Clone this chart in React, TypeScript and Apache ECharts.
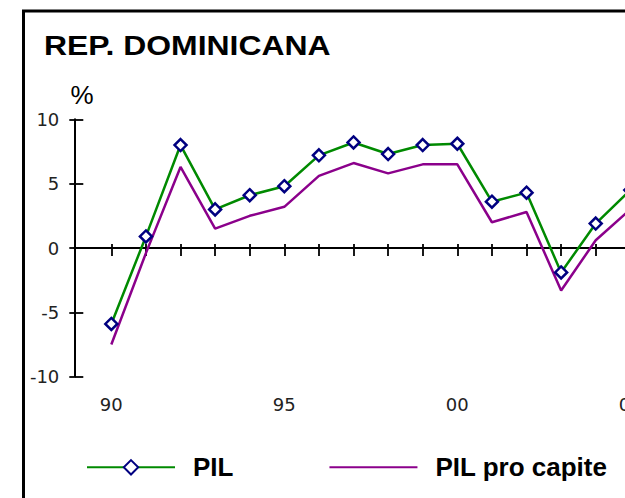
import React, { useEffect, useRef } from "react";
import * as echarts from "echarts";

const years = [1990, 1991, 1992, 1993, 1994, 1995, 1996, 1997, 1998, 1999, 2000, 2001, 2002, 2003, 2004, 2005];
const pil = [-5.9, 0.9, 8.0, 3.0, 4.1, 4.8, 7.2, 8.2, 7.3, 8.0, 8.1, 3.6, 4.3, -1.9, 1.9, 4.5];
const pilProCapite = [-7.5, -0.4, 6.3, 1.5, 2.5, 3.2, 5.6, 6.6, 5.8, 6.5, 6.5, 2.0, 2.8, -3.3, 0.6, 3.0];
const tickYears = [1990, 1991, 1992, 1993, 1994, 1995, 1996, 1997, 1998, 1999, 2000, 2001, 2002, 2003, 2004, 2005, 2006];
const labelYears = [1990, 1995, 2000, 2005];
const seriesNames = ["PIL", "PIL pro capite"];
const titleText = "REP. DOMINICANA";
const unitText = "%";

const X_MIN = 1988.93;
const X_MAX = 2006;
const CHART_W = 690;

export default function App() {
  const ref = useRef<HTMLDivElement>(null);
  useEffect(() => {
    if (!ref.current) return;
    const chart = echarts.init(ref.current, undefined, { renderer: "svg" });
    const axisColor = "#000";
    const baseX = {
      type: "value",
      min: X_MIN,
      max: X_MAX,
      gridIndex: 0,
      position: "bottom",
      splitLine: { show: false },
      axisLabel: { show: false },
    };
    const baseY = {
      type: "value",
      min: -10,
      max: 10,
      interval: 5,
      position: "left",
      splitLine: { show: false },
    };
    // x scale: 34.6 px per year -> axis end at 74.3 + (X_MAX - X_MIN) * 34.6
    const gridRight = CHART_W - (74.3 + (X_MAX - X_MIN) * 34.6);
    chart.setOption({
      animation: false,
      backgroundColor: "#fff",
      grid: { left: 74.3, right: gridRight, top: 119.3, bottom: 121.3, containLabel: false },
      xAxis: [
        {
          ...baseX,
          axisLine: { show: true, onZero: true, lineStyle: { color: axisColor, width: 2 } },
          axisTick: { show: true, inside: true, length: 4, customValues: tickYears, lineStyle: { color: axisColor, width: 1.8 } },
        },
        {
          ...baseX,
          axisLine: { show: false, onZero: true },
          axisTick: { show: true, inside: false, length: 8, customValues: tickYears, lineStyle: { color: axisColor, width: 1.8 } },
        },
        {
          ...baseX,
          axisLine: { show: false, onZero: false },
          axisTick: { show: false },
          axisLabel: {
            show: true,
            customValues: labelYears,
            margin: 19,
            color: "#222",
            fontFamily: "DejaVu Sans",
            fontSize: 18,
            formatter: (v: number) => String(Math.round(v)).slice(2),
          },
        },
      ],
      yAxis: [
        {
          ...baseY,
          axisLine: { show: true, onZero: false, lineStyle: { color: axisColor, width: 2 } },
          axisTick: { show: true, inside: true, length: 9, lineStyle: { color: axisColor, width: 1.8 } },
          axisLabel: { show: true, margin: 15, color: "#222", fontFamily: "DejaVu Sans", fontSize: 18 },
        },
        {
          ...baseY,
          axisLine: { show: false, onZero: false },
          axisTick: { show: true, inside: false, length: 5, lineStyle: { color: axisColor, width: 1.8 } },
          axisLabel: { show: false },
        },
      ],
      legend: {
        data: seriesNames,
        left: 86,
        top: 454.3,
        padding: 0,
        itemWidth: 88,
        itemHeight: 18,
        itemGap: 95,
        textStyle: {
          fontFamily: "Liberation Sans, Arial, sans-serif",
          fontWeight: "bold",
          fontSize: 26,
          color: "#000",
          padding: [0, 0, 12, 13],
        },
      },
      graphic: [
        {
          type: "rect",
          shape: { x: 23.5, y: 11, width: 800, height: 700 },
          style: { fill: "none", stroke: "#000", lineWidth: 3 },
          silent: true,
        },
        {
          type: "text",
          x: 44,
          y: 44.9,
          scaleX: 1.14,
          style: {
            text: titleText,
            x: 0,
            y: 0,
            align: "left",
            verticalAlign: "middle",
            font: "bold 28px 'Liberation Sans', Arial, sans-serif",
            fill: "#000",
          },
        },
        {
          type: "text",
          x: 82,
          y: 94.8,
          style: {
            text: unitText,
            x: 0,
            y: 0,
            align: "center",
            verticalAlign: "middle",
            font: "26px 'Liberation Sans', Arial, sans-serif",
            fill: "#000",
          },
        },
      ],
      series: [
        {
          name: seriesNames[1],
          type: "line",
          xAxisIndex: 0,
          yAxisIndex: 0,
          data: years.map((y, i) => [y, pilProCapite[i]]),
          symbol: "none",
          color: "#8b008b",
          lineStyle: { color: "#8b008b", width: 2.5 },
          itemStyle: { opacity: 0 },
          z: 2,
        },
        {
          name: seriesNames[0],
          type: "line",
          xAxisIndex: 0,
          yAxisIndex: 0,
          data: years.map((y, i) => [y, pil[i]]),
          symbol: "diamond",
          symbolSize: 12,
          showSymbol: true,
          color: "#008a00",
          lineStyle: { color: "#008a00", width: 2.5 },
          itemStyle: { color: "#fff", borderColor: "#000080", borderWidth: 2.5 },
          z: 3,
        },
      ],
    });
    return () => chart.dispose();
  }, []);
  return (
    <div style={{ position: "fixed", left: 0, top: 0, width: 625, height: 498, overflow: "hidden", background: "#fff" }}>
      <div ref={ref} style={{ width: CHART_W, height: 498 }} />
    </div>
  );
}
